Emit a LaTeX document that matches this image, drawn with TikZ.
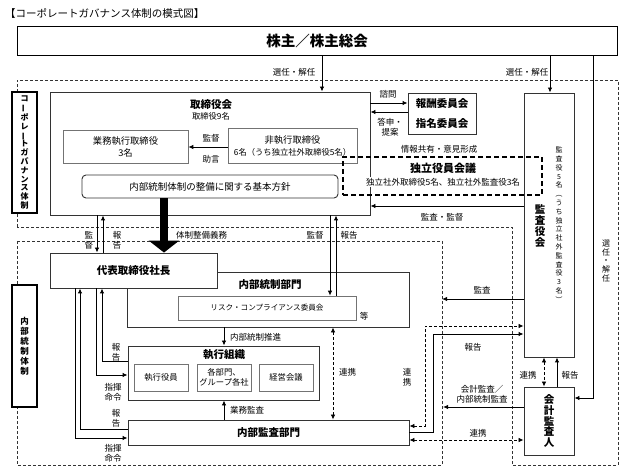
\documentclass[tikz,border=0pt]{standalone}
\usepackage{fontspec}
\setmainfont{Noto Sans CJK JP}
\usetikzlibrary{arrows.meta,positioning}

% vertical forms for upright text
\newcommand\vlong{\rotatebox[origin=c]{90}{ー}}
\newcommand\vlparen{\rotatebox[origin=c]{-90}{（}}
\newcommand\vrparen{\rotatebox[origin=c]{-90}{）}}

\tikzset{
  wh/.style 2 args={minimum width=#1pt, minimum height=#2pt},
  box/.style={draw=black!80, line width=0.9pt, fill=white, inner sep=0pt},
  subbox/.style={box, draw=black!55, line width=0.7pt},
  ttl/.style={font=\bfseries\fontsize{10.5}{12}\selectfont},
  lbl/.style={font=\fontsize{8.5}{10}\selectfont, inner sep=0pt, align=center},
  arr/.style={-{Latex[length=5pt,width=4.5pt]}, line width=0.9pt},
  link/.style={{Latex[length=5pt,width=4.5pt]}-{Latex[length=5pt,width=4.5pt]},
               line width=0.8pt, dash pattern=on 3pt off 2pt},
  region/.style={draw=black!80, line width=0.6pt, dash pattern=on 3pt off 2pt}
}

\begin{document}
\begin{tikzpicture}[x=1pt, y=-1pt]
  \useasboundingbox (0,0) rectangle (633,476);

  \node[anchor=west, inner sep=0pt, font=\fontsize{10.5}{12}\selectfont] (title) at (5,13)
    {【コーポレートガバナンス体制の模式図】};

  % Dashed regions
  \draw[region] (17,227) -- (17,80) -- (618,80) -- (618,465) -- (512,465) -- (512,227) -- cycle;
  \draw[region] (17,241) rectangle (442,465);
  \coordinate (ic edge a) at (442,299);
  \coordinate (ic edge b) at (443,407);

  % Shareholders and board
  \node[box, draw=black, wh={600}{29}, font=\bfseries\fontsize{14.5}{16}\selectfont]
    (shareholders) at (317,40.5) {株主／株主総会};
  \node[box, wh={320}{123}] (board) at (210,153.5) {};
  \node[ttl, inner sep=0pt] (board title) at (211,105) {取締役会};
  \node[lbl, font=\fontsize{8.3}{9}\selectfont] (board count) at (211,116.5) {取締役9名};
  \node[subbox, wh={125}{33}, align=center, font=\fontsize{9.3}{12}\selectfont]
    (exec dir) at (125.5,146.5) {業務執行取締役\\3名};
  \node[subbox, wh={129}{35}, align=center, font=\fontsize{9.3}{12}\selectfont]
    (nonexec dir) at (292.5,145.5)
    {非執行取締役\\{\fontsize{8.3}{10}\selectfont 6名（うち独立社外取締役5名）}};
  \node[box, rounded corners=4pt, wh={256}{23}, font=\fontsize{9.5}{11}\selectfont]
    (basic policy) at (210,186.5) {内部統制体制の整備に関する基本方針};

  % Committees, audit board, independent officers
  \node[box, wh={68}{41}, align=center, font=\bfseries\fontsize{10.5}{20}\selectfont]
    (committees) at (442,113.5) {報酬委員会\\指名委員会};
  \node[box, wh={50}{264}] (audit board) at (549,225) {};
  \node[align=center, inner sep=0pt, font=\bfseries\fontsize{10.5}{11.3}\selectfont]
    (audit board title) at (540,226) {監\\査\\役\\会};
  \node[align=center, inner sep=0pt, font=\fontsize{7}{8.8}\selectfont]
    (audit board count) at (559,225)
    {監\\査\\役\\5\\名\\\vlparen\\う\\ち\\独\\立\\社\\外\\監\\査\\役\\3\\名\\\vrparen};
  \node[draw, line width=1.3pt, dash pattern=on 5pt off 3pt, wh={199}{38}]
    (indep meeting) at (442.5,176) {};
  \node[fill=white, inner sep=1pt, font=\bfseries\fontsize{11}{12}\selectfont]
    (indep title) at (443,168) {独立役員会議};
  \node[lbl, fill=white, inner ysep=1pt, inner xsep=3pt] (indep members) at (443,182)
    {独立社外取締役5名、独立社外監査役3名};
  \node[lbl] (l share) at (439,149) {情報共有・意見形成};

  % Internal control side
  \node[box, wh={282}{55}] (ic dept) at (268,299.5) {};
  \node[ttl, inner sep=0pt] (ic dept title) at (270,285) {内部統制部門};
  \node[subbox, wh={178}{24}, font=\fontsize{7.6}{9}\selectfont]
    (risk comm) at (267,308) {リスク・コンプライアンス委員会};
  \node[lbl] (l etc) at (364,316) {等};
  \node[box, wh={167}{35}, ttl] (ceo) at (133.5,270.5) {代表取締役社長};
  \node[box, wh={191}{54}] (exec org) at (223.5,373) {};
  \node[ttl, inner sep=0pt] (exec org title) at (224,355) {執行組織};
  \foreach \name/\x/\txt in {exec officers/161/{執行役員},
                             divisions/224/{各部門、\\グループ各社},
                             mgmt meeting/286/{経営会議}}
    \node[subbox, wh={54}{27}, align=center, font=\fontsize{8.3}{10}\selectfont]
      (\name) at (\x,377.5) {\txt};
  \node[box, wh={281}{25}, ttl] (internal audit) at (268.5,432.5) {内部監査部門};
  \node[box, wh={50}{68}, align=center, font=\bfseries\fontsize{10.5}{10.8}\selectfont]
    (auditor) at (549,421) {会\\計\\監\\査\\人};

  % Side labels
  \node[box, draw=black, line width=1.1pt, wh={25}{121}, align=center,
        font=\bfseries\fontsize{8}{8.8}\selectfont] (cg label) at (24.5,152.5)
    {コ\\\vlong\\ポ\\レ\\\vlong\\ト\\ガ\\バ\\ナ\\ン\\ス\\体\\制};
  \node[box, draw=black, line width=1.1pt, wh={25}{122}, align=center,
        font=\bfseries\fontsize{8.5}{10}\selectfont] (ic label) at (24.5,346)
    {内\\部\\統\\制\\体\\制};

  % Election and dismissal
  \draw[arr] (shareholders.south -| 322,0) -- (board.north -| 322,0);
  \draw[arr] (shareholders.south -| 550,0) -- (audit board.north -| 550,0);
  \draw[arr] (shareholders.south -| 593,0) |- (auditor.east |- 0,398);
  \node[lbl] (l elect 1) at (294,72) {選任・解任};
  \node[lbl] (l elect 2) at (527,72) {選任・解任};
  \node[lbl, font=\fontsize{8}{8.6}\selectfont] (l elect 3) at (606,261) {選\\任\\・\\解\\任};

  % Board and committees
  \draw[arr] (board.east |- 0,103) -- (committees.west |- 0,103);
  \draw[arr] (committees.west |- 0,112) -- (board.east |- 0,112);
  \node[lbl] (l consult) at (388,94) {諮問};
  \node[lbl] (l answer) at (390,127) {答申・\\提案};
  \draw[arr] (nonexec dir.west |- 0,147) -- (exec dir.east |- 0,147);
  \node[lbl] (l sup 1) at (211,138) {監督};
  \node[lbl] (l advice) at (211,159) {助言};

  % Board down to president
  \draw[line width=8pt, -{Triangle[width=30pt,length=12pt]}]
    (basic policy.south -| 164,0) -- (ceo.north -| 164,0);
  \node[lbl, anchor=west] (l duty) at (176,235) {体制整備義務};
  \draw[arr] (board.south -| 97,0) -- (ceo.north -| 97,0);
  \draw[arr] (ceo.north -| 103,0) -- (board.south -| 103,0);
  \node[lbl] (l sup 2) at (89,240) {監\\督};
  \node[lbl] (l rep 1) at (117,240) {報\\告};
  \draw[arr] (board.south -| 330,0) -- (risk comm.north -| 330,0);
  \draw[arr] (risk comm.north -| 336,0) -- (board.south -| 336,0);
  \node[lbl] (l sup 3) at (315,235) {監督};
  \node[lbl] (l rep 2) at (349,235) {報告};

  % Audit board
  \draw[arr] (audit board.west |- 0,206) -- (board.east |- 0,206);
  \node[lbl] (l audit sup) at (442,217) {監査・監督};
  \draw[arr] (audit board.west |- 0,299) -- (ic edge a);
  \node[lbl] (l audit) at (482,290) {監査};

  % Inside internal control
  \draw[arr] (ic dept.south -| 224,0) -- (exec org.north -| 224,0);
  \node[lbl, anchor=west] (l promote) at (230,337) {内部統制推進};
  \draw[arr] (internal audit.north -| 224,0) -- (exec org.south -| 224,0);
  \node[lbl, anchor=west] (l ops audit) at (230,410) {業務監査};
  \draw[arr] (ceo.south -| 96,0) |- (exec org.west |- 0,375);
  \draw[arr] (exec org.west |- 0,361) -| (ceo.south -| 102,0);
  \draw[arr] (ceo.south -| 75,0) |- (internal audit.west |- 0,438);
  \draw[arr] (internal audit.west |- 0,429) -| (ceo.south -| 80,0);
  \node[lbl] (l rep 3) at (116,352) {報\\告};
  \node[lbl] (l cmd 1) at (113,392) {指揮\\命令};
  \node[lbl] (l rep 4) at (116,418) {報\\告};
  \node[lbl] (l cmd 2) at (113,453) {指揮\\命令};
  \draw[link] (ic dept.south -| 333,0) -- (internal audit.north -| 333,0);
  \node[lbl, anchor=west] (l link 1) at (339,372) {連携};

  % Internal audit, audit board and accounting auditor
  \draw[link] (internal audit.east |- 0,426) -- ++(16,0) |- (audit board.west |- 0,326);
  \draw[arr] (internal audit.east |- 0,432) -- ++(24,0) |- (audit board.west |- 0,334);
  \node[lbl] (l link 2) at (407,377) {連\\携};
  \node[lbl] (l rep 5) at (473,347) {報告};
  \draw[link] (internal audit.east |- 0,440) -- (auditor.west |- 0,440);
  \node[lbl] (l link 3) at (478,433) {連携};
  \draw[arr] (auditor.west |- 0,407) -- (ic edge b);
  \node[lbl] (l acc audit) at (482,394) {会計監査／\\内部統制監査};
  \draw[link] (audit board.south -| 544,0) -- (auditor.north -| 544,0);
  \draw[arr] (auditor.north -| 557,0) -- (audit board.south -| 557,0);
  \node[lbl] (l link 4) at (528,375) {連携};
  \node[lbl] (l rep 6) at (570,375) {報告};

\end{tikzpicture}
\end{document}
